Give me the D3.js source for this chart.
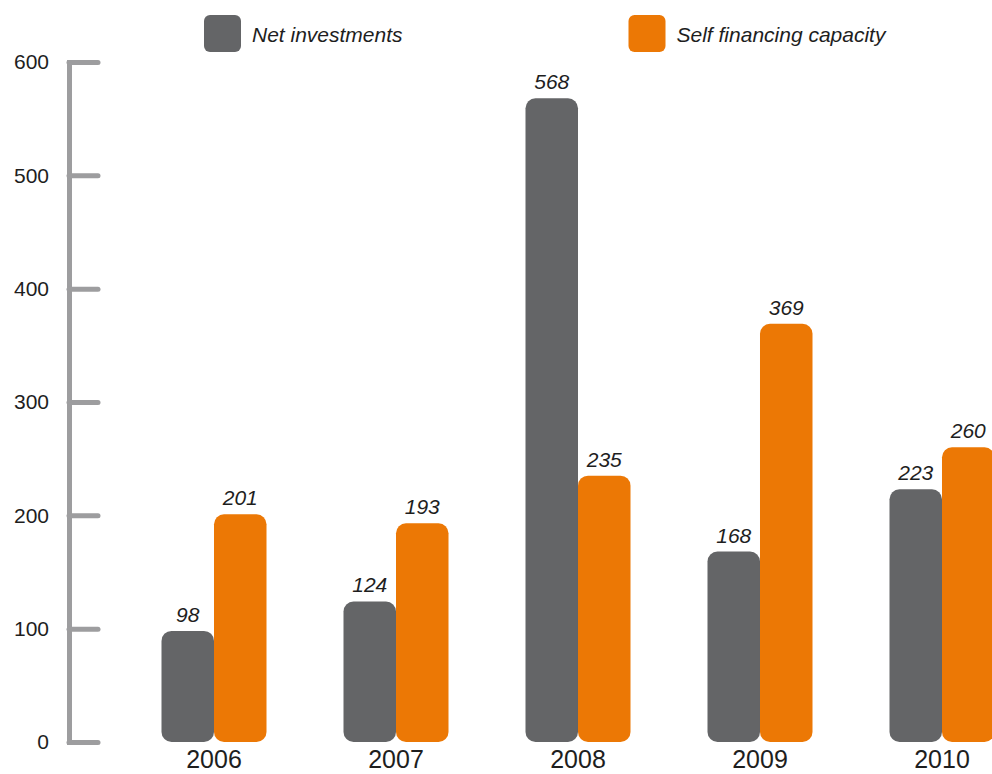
<!DOCTYPE html>
<html>
<head>
<meta charset="utf-8">
<script src="https://cdn.jsdelivr.net/npm/d3@7"></script>
<style>
  html, body { margin: 0; padding: 0; background: #fff; }
  svg { display: block; }
  text { font-family: "Liberation Sans", Arial, Helvetica, sans-serif; fill: #1e1e1e; }
</style>
</head>
<body>
<svg id="chart" width="992" height="774"></svg>
<script>
const years = ["2006", "2007", "2008", "2009", "2010"];
const seriesNames = ["Net investments", "Self financing capacity"];
const netInvestments = [98, 124, 568, 168, 223];
const selfFinancing = [201, 193, 235, 369, 260];
const yTicks = [0, 100, 200, 300, 400, 500, 600];
const colors = ["#646567", "#ec7805"];

const svg = d3.select("#chart");

const y = d3.scaleLinear().domain([0, 600]).range([742, 62]);
const x = d3.scaleBand().domain(years).range([123, 1033]).paddingInner(0.423).paddingOuter(0.2115);
const sub = d3.scaleBand().domain([0, 1]).range([0, x.bandwidth()]);

// Axis (ticks pointing right, labels on left)
const axis = d3.axisLeft(y).tickValues(yTicks).tickSizeInner(-29).tickSizeOuter(0).tickPadding(20)
  .tickFormat(d3.format("d"));
const gAxis = svg.append("g").attr("transform", "translate(69,0)").call(axis);
gAxis.select(".domain").attr("stroke", "#9d9d9f").attr("stroke-width", 5).attr("stroke-linecap", "square");
gAxis.selectAll(".tick line").attr("stroke", "#9d9d9f").attr("stroke-width", 5).attr("stroke-linecap", "round");
gAxis.selectAll(".tick text").attr("font-size", 21).attr("fill", "#1e1e1e")
  .attr("font-family", "'Liberation Sans', Arial, sans-serif");

// Bars
const data = years.map((yr, i) => ({ year: yr, vals: [netInvestments[i], selfFinancing[i]] }));
const groups = svg.append("g").selectAll("g").data(data).join("g")
  .attr("transform", d => `translate(${x(d.year)},0)`);

groups.selectAll("rect").data(d => d.vals.map((v, k) => ({ v, k }))).join("rect")
  .attr("x", d => sub(d.k))
  .attr("width", sub.bandwidth())
  .attr("y", d => y(d.v))
  .attr("height", d => y(0) - y(d.v))
  .attr("rx", 10).attr("ry", 10)
  .attr("fill", d => colors[d.k]);

groups.selectAll("text.val").data(d => d.vals.map((v, k) => ({ v, k }))).join("text")
  .attr("class", "val")
  .attr("x", d => sub(d.k) + sub.bandwidth() / 2)
  .attr("y", d => y(d.v) - 9)
  .attr("text-anchor", "middle")
  .attr("font-size", 21)
  .attr("font-style", "italic")
  .text(d => d.v);

// X labels
svg.append("g").selectAll("text").data(years).join("text")
  .attr("x", d => x(d) + x.bandwidth() / 2)
  .attr("y", 768)
  .attr("text-anchor", "middle")
  .attr("font-size", 25)
  .text(d => d);

// Legend
const legendX = [204, 628.5];
const leg = svg.append("g").selectAll("g").data(seriesNames).join("g")
  .attr("transform", (d, i) => `translate(${legendX[i]},15)`);
leg.append("rect").attr("width", 37).attr("height", 37).attr("rx", 6).attr("ry", 6)
  .attr("fill", (d, i) => colors[i]);
leg.append("text").attr("x", 48).attr("y", 27).attr("font-size", 21).attr("font-style", "italic")
  .text(d => d);
</script>
</body>
</html>
